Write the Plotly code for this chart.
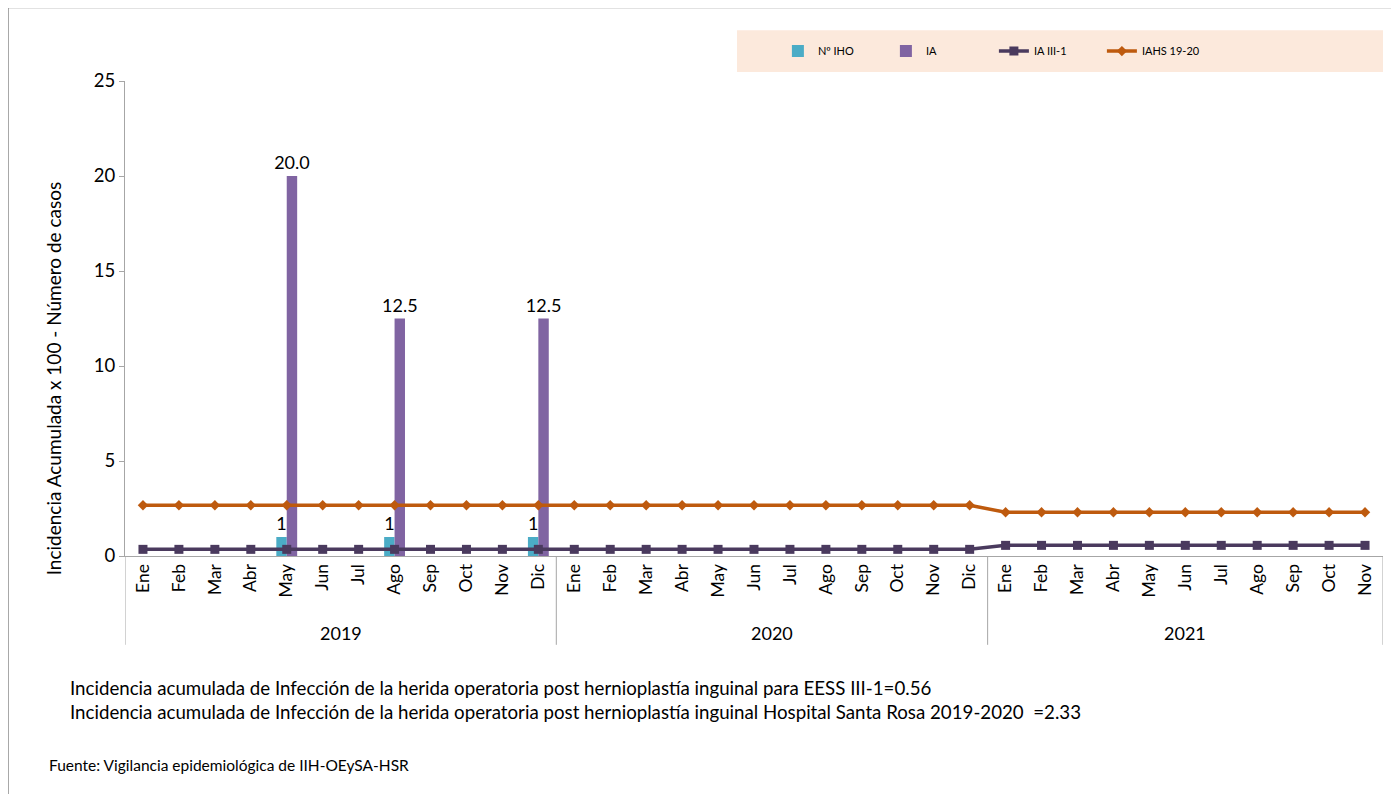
import plotly.graph_objects as go

months_2019 = ["Ene", "Feb", "Mar", "Abr", "May", "Jun", "Jul", "Ago", "Sep", "Oct", "Nov", "Dic"]
months_2020 = ["Ene", "Feb", "Mar", "Abr", "May", "Jun", "Jul", "Ago", "Sep", "Oct", "Nov", "Dic"]
months_2021 = ["Ene", "Feb", "Mar", "Abr", "May", "Jun", "Jul", "Ago", "Sep", "Oct", "Nov"]
years = ["2019", "2020", "2021"]

n_iho = [None, None, None, None, 1, None, None, 1, None, None, None, 1] + [None] * 12 + [None] * 11
ia = [None, None, None, None, 20.0, None, None, 12.5, None, None, None, 12.5] + [None] * 12 + [None] * 11
ia_iii1 = [0.35] * 12 + [0.35] * 12 + [0.56] * 11
iahs = [2.67] * 12 + [2.67] * 12 + [2.3] * 11

months = months_2019 + months_2020 + months_2021
group_sizes = [len(months_2019), len(months_2020), len(months_2021)]
x = list(range(len(months)))

FONT = "Lato"
GRAY = "#A6A6A6"

fig = go.Figure()
fig.add_trace(go.Bar(
    x=x, y=n_iho, name="Nº IHO", marker=dict(color="#4BACC6", line=dict(width=0)),
    text=[("%d" % v) if v is not None else None for v in n_iho],
    textposition="outside", textfont=dict(size=18, color="#000000", family=FONT),
    constraintext="none", cliponaxis=False,
))
fig.add_trace(go.Bar(
    x=x, y=ia, name="IA", marker=dict(color="#8064A2", line=dict(width=0)),
    text=[("%.1f" % v) if v is not None else None for v in ia],
    textposition="outside", textfont=dict(size=18, color="#000000", family=FONT),
    constraintext="none", cliponaxis=False,
))
fig.add_trace(go.Scatter(
    x=x, y=ia_iii1, name="IA III-1", mode="lines+markers",
    line=dict(color="#4A3A5E", width=3.5),
    marker=dict(symbol="square", size=9, color="#4A3A5E"),
))
fig.add_trace(go.Scatter(
    x=x, y=iahs, name="IAHS 19-20", mode="lines+markers",
    line=dict(color="#BE5A0E", width=3.5),
    marker=dict(symbol="diamond", size=8, color="#BE5A0E"),
))

# group boundaries and year labels
bounds = [-0.5]
for g in group_sizes:
    bounds.append(bounds[-1] + g)

shapes = []
for b in bounds:
    shapes.append(dict(type="line", xref="x", yref="paper", x0=b, x1=b, y0=0, y1=-0.187,
                       line=dict(color=GRAY, width=1)))
annotations = []
for i, yr in enumerate(years):
    annotations.append(dict(x=(bounds[i] + bounds[i + 1]) / 2, y=-0.162, xref="x", yref="paper",
                            text=yr, showarrow=False, font=dict(size=18, family=FONT, color="#000"),
                            yanchor="middle"))

# legend background
shapes.append(dict(type="rect", xref="paper", yref="paper", x0=0.4865, x1=1.0, y0=1.019, y1=1.107,
                   fillcolor="#FCE9DC", line=dict(width=0), layer="below"))
# outer frame (left and top edges visible)
shapes.append(dict(type="line", xref="paper", yref="paper", x0=-0.093, x1=-0.093, y0=-0.52, y1=1.155,
                   line=dict(color="#8C8C8C", width=1.5), layer="above"))
shapes.append(dict(type="line", xref="paper", yref="paper", x0=-0.093, x1=1.0111, y0=1.155, y1=1.155,
                   line=dict(color="#8C8C8C", width=1.5), layer="above"))

annotations.append(dict(x=-0.0676, y=0.375, xref="paper", yref="paper", textangle=-90,
                        text="Incidencia Acumulada x 100 - Número de casos", showarrow=False,
                        font=dict(size=19, family=FONT, color="#000")))
annotations.append(dict(x=-0.0453, y=-0.278, xref="paper", yref="paper", xanchor="left", yanchor="middle",
                        text="Incidencia acumulada de Infección de la herida operatoria post hernioplastía inguinal para EESS III-1=0.56",
                        showarrow=False, font=dict(size=18.7, family=FONT, color="#000")))
annotations.append(dict(x=-0.0453, y=-0.328, xref="paper", yref="paper", xanchor="left", yanchor="middle",
                        text="Incidencia acumulada de Infección de la herida operatoria post hernioplastía inguinal Hospital Santa Rosa 2019-2020  =2.33",
                        showarrow=False, font=dict(size=18.7, family=FONT, color="#000")))
annotations.append(dict(x=-0.062, y=-0.44, xref="paper", yref="paper", xanchor="left", yanchor="middle",
                        text="Fuente: Vigilancia epidemiológica de IIH-OEySA-HSR",
                        showarrow=False, font=dict(size=15.5, family=FONT, color="#000")))

fig.update_layout(
    width=1399, height=794,
    margin=dict(l=117, r=24, t=73, b=246),
    paper_bgcolor="white", plot_bgcolor="white",
    font=dict(family=FONT, size=16, color="#000"),
    barmode="group", bargap=0.42, bargroupgap=0,
    showlegend=True,
    legend=dict(orientation="h", x=0.519, y=1.063, xanchor="left", yanchor="middle",
                bgcolor="rgba(0,0,0,0)", font=dict(size=11, family=FONT, color="#000"),
                entrywidth=63, entrywidthmode="pixels", traceorder="normal"),
    shapes=shapes, annotations=annotations,
)
fig.update_xaxes(range=[-0.5, len(months) - 0.5], tickmode="array", tickvals=x, ticktext=months,
                 tickangle=-90, showline=True, linecolor=GRAY, linewidth=1, showgrid=False,
                 zeroline=False, ticks="", tickfont=dict(size=17.5, family=FONT, color="#000"))
fig.update_yaxes(range=[0, 25], tickvals=[0, 5, 10, 15, 20, 25], showline=True, linecolor=GRAY,
                 linewidth=1, showgrid=False, zeroline=False, ticks="outside", ticklen=5,
                 tickcolor=GRAY, tickfont=dict(size=18.5, family=FONT, color="#000"))

fig.write_html("out.html")
